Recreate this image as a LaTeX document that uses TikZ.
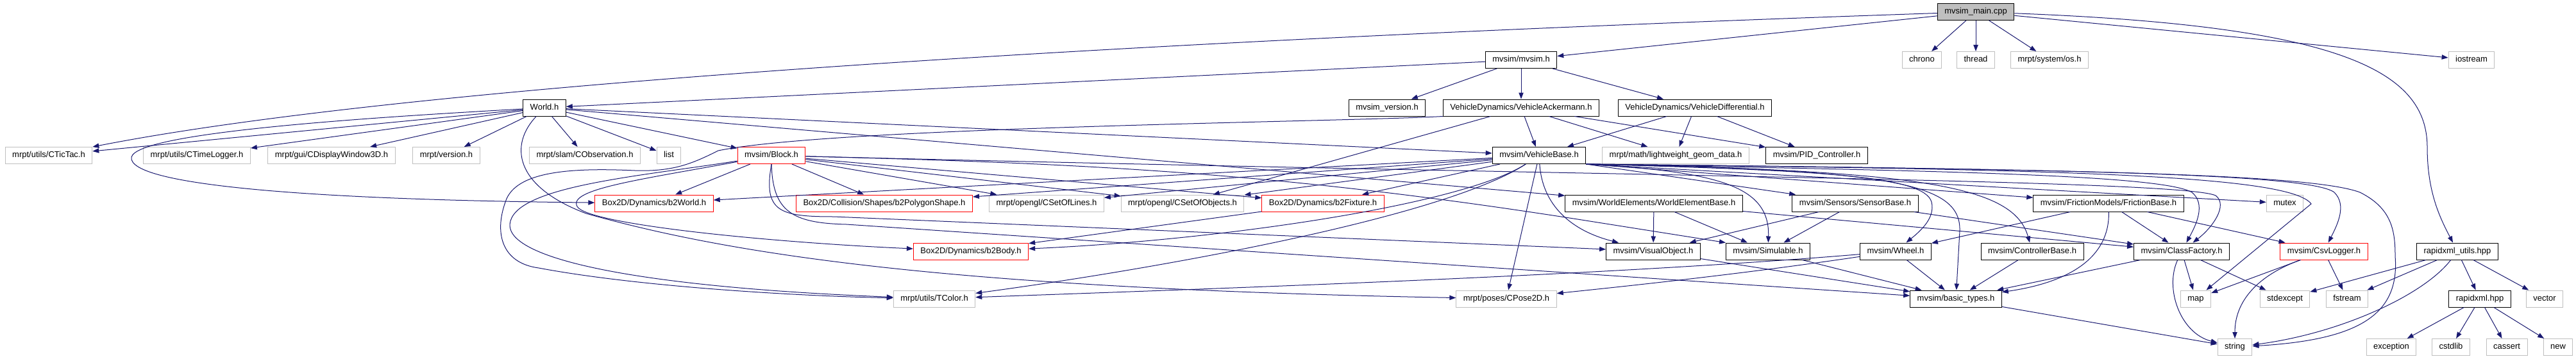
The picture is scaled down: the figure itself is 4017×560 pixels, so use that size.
\documentclass[tikz,border=0pt]{standalone}
\usepackage{fontspec}
\setmainfont{Liberation Sans}
\usetikzlibrary{arrows.meta}
\definecolor{edgeblue}{HTML}{191970}
\definecolor{grey75}{HTML}{BFBFBF}

\begin{document}
\begin{tikzpicture}[x=0.75pt,y=-0.75pt,
  box/.style={draw,line width=0.75pt,fill=white,font=\fontsize{9.75}{11}\selectfont,
    inner xsep=8.25pt,inner ysep=0pt,minimum height=19.5pt,text height=7.2pt,text depth=2.1pt},
  docfile/.style={box,draw=black},
  extfile/.style={box,draw=grey75},
  cutfile/.style={box,draw=red},
  rootfile/.style={box,draw=black,fill=grey75},
  dep/.style={draw=edgeblue,line width=0.75pt,-{Triangle[length=7.5pt,width=5.5pt]}}]
\useasboundingbox (0,0) rectangle (4017,560);

\node[rootfile] (main) at (3081,18.5) {mvsim\_main.cpp};

\node[docfile] (mvsimh) at (2372,93.5) {mvsim/mvsim.h};
\node[extfile] (chrono) at (2997,93.5) {chrono};
\node[extfile] (thread) at (3081,93.5) {thread};
\node[extfile] (osh) at (3196,93.5) {mrpt/system/os.h};
\node[extfile] (iostream) at (3854,93.5) {iostream};

\node[docfile] (world) at (849,168) {World.h};
\node[docfile] (version) at (2163,168) {mvsim\_version.h};
\node[docfile] (ackermann) at (2372,168) {VehicleDynamics/VehicleAckermann.h};
\node[docfile] (differential) at (2643,168) {VehicleDynamics/VehicleDifferential.h};

\node[extfile] (tictac) at (76,242.5) {mrpt/utils/CTicTac.h};
\node[extfile] (timelogger) at (307,242.5) {mrpt/utils/CTimeLogger.h};
\node[extfile] (display3d) at (517,242.5) {mrpt/gui/CDisplayWindow3D.h};
\node[extfile] (mrptversion) at (696,242.5) {mrpt/version.h};
\node[extfile] (cobs) at (912,242.5) {mrpt/slam/CObservation.h};
\node[extfile] (list) at (1043,242.5) {list};
\node[cutfile] (block) at (1203,242.5) {mvsim/Block.h};
\node[docfile] (vehbase) at (2400,242.5) {mvsim/VehicleBase.h};
\node[extfile] (geomdata) at (2613,242.5) {mrpt/math/lightweight\_geom\_data.h};
\node[docfile] (pid) at (2833,242.5) {mvsim/PID\_Controller.h};

\node[cutfile] (b2world) at (1020,317) {Box2D/Dynamics/b2World.h};
\node[cutfile] (b2poly) at (1379,317) {Box2D/Collision/Shapes/b2PolygonShape.h};
\node[extfile] (setlines) at (1632,317) {mrpt/opengl/CSetOfLines.h};
\node[extfile] (setobjects) at (1844,317) {mrpt/opengl/CSetOfObjects.h};
\node[cutfile] (b2fixture) at (2063,317) {Box2D/Dynamics/b2Fixture.h};
\node[docfile] (worldelem) at (2579,317) {mvsim/WorldElements/WorldElementBase.h};
\node[docfile] (sensorbase) at (2893,317) {mvsim/Sensors/SensorBase.h};
\node[docfile] (friction) at (3288,317) {mvsim/FrictionModels/FrictionBase.h};
\node[extfile] (mutex) at (3563,317) {mutex};

\node[cutfile] (b2body) at (1514,392) {Box2D/Dynamics/b2Body.h};
\node[docfile] (visualobj) at (2578,392) {mvsim/VisualObject.h};
\node[docfile] (simulable) at (2757,392) {mvsim/Simulable.h};
\node[docfile] (wheel) at (2956,392) {mvsim/Wheel.h};
\node[docfile] (ctrlbase) at (3169,392) {mvsim/ControllerBase.h};
\node[docfile] (classfactory) at (3402,392) {mvsim/ClassFactory.h};
\node[cutfile] (csvlogger) at (3624,392) {mvsim/CsvLogger.h};
\node[docfile] (rxutils) at (3832,392) {rapidxml\_utils.hpp};

\node[extfile] (tcolor) at (1457,466) {mrpt/utils/TColor.h};
\node[extfile] (cpose) at (2349,466) {mrpt/poses/CPose2D.h};
\node[docfile] (basictypes) at (3050,466) {mvsim/basic\_types.h};
\node[extfile] (map) at (3424,466) {map};
\node[extfile] (stdexcept) at (3563,466) {stdexcept};
\node[extfile] (fstream) at (3660,466) {fstream};
\node[docfile] (rxml) at (3867,466) {rapidxml.hpp};
\node[extfile] (vector) at (3968,466) {vector};

\node[extfile] (string) at (3485,541.5) {string};
\node[extfile] (exception) at (3729,541.5) {exception};
\node[extfile] (cstdlib) at (3822,541.5) {cstdlib};
\node[extfile] (cassert) at (3909,541.5) {cassert};
\node[extfile] (new) at (3989,541.5) {new};

\foreach \a/\b in {main/mvsimh,main/chrono,main/thread,main/osh,main/iostream,
  mvsimh/world,mvsimh/version,mvsimh/ackermann,mvsimh/differential,
  world/tictac,world/timelogger,world/display3d,world/mrptversion,world/cobs,world/list,world/block,world/vehbase,world/worldelem,
  ackermann/vehbase,ackermann/geomdata,ackermann/pid,ackermann/setobjects,
  differential/vehbase,differential/geomdata,differential/pid,
  block/b2world,block/b2poly,block/setlines,block/setobjects,block/b2fixture,
  vehbase/b2world,vehbase/b2poly,vehbase/setlines,vehbase/setobjects,vehbase/b2fixture,vehbase/cpose,
  vehbase.south east/sensorbase,vehbase.south east/friction,vehbase.south east/mutex,
  b2fixture/b2body,
  worldelem/visualobj,worldelem/simulable,worldelem/classfactory,
  sensorbase/visualobj,sensorbase/simulable,sensorbase/classfactory,
  friction/wheel,friction/classfactory,friction/csvlogger,
  visualobj/basictypes,simulable/basictypes,wheel/basictypes,ctrlbase/basictypes,classfactory/basictypes,
  classfactory/map,classfactory/stdexcept,csvlogger/map,csvlogger/fstream,
  rxutils/stdexcept,rxutils/fstream,rxutils/rxml,rxutils/vector,
  rxml/exception,rxml/cstdlib,rxml/cassert,rxml/new,basictypes/string}
  \draw[dep] (\a) -- (\b);

\draw[dep] (main) .. controls (2000,55) and (700,120) .. (tictac);
\draw[dep] (main) .. controls (3650,40) and (3785,110) .. (3785,230) .. controls (3785,300) and (3805,340) .. (rxutils);
\draw[dep] (world) .. controls (600,182) and (215,205) .. (205,245) .. controls (198,290) and (500,312) .. (b2world);
\draw[dep] (world) .. controls (795,225) and (800,290) .. (914,333) .. controls (1150,400) and (1500,450) .. (cpose);
\draw[dep] (ackermann.south west) .. controls (2100,190) and (1300,198) .. (1120,235) .. controls (1080,255) and (1050,268) .. (990,266)
  .. controls (900,262) and (810,265) .. (790,310) .. controls (770,360) and (780,410) .. (840,418) .. controls (1000,448) and (1250,462) .. (tcolor);
\draw[dep] (block) .. controls (1000,275) and (800,290) .. (795,350) .. controls (792,405) and (1000,448) .. (tcolor);
\draw[dep] (block) .. controls (1000,280) and (885,295) .. (900,322) .. controls (915,350) and (1200,378) .. (b2body);
\draw[dep] (block.south) .. controls (1190,330) and (1215,338) .. (1300,338) -- (visualobj);
\draw[dep] (block.south) .. controls (1205,330) and (1235,348) .. (1320,350) -- (basictypes);
\draw[dep] (block) .. controls (1700,255) and (2000,270) .. (2460,342) -- (simulable.north west);
\draw[dep] (block) .. controls (2500,275) and (3400,280) .. (3455,305) .. controls (3475,320) and (3450,355) .. (classfactory);
\draw[dep] (vehbase) .. controls (2280,320) and (1900,375) .. (b2body);
\draw[dep] (vehbase) .. controls (2250,340) and (1800,420) .. (tcolor);
\draw[dep] (vehbase) .. controls (2405,320) and (2450,360) .. (visualobj);
\draw[dep] (vehbase.south east) .. controls (2680,268) and (2760,290) .. (simulable);
\draw[dep] (vehbase.south east) .. controls (2850,266) and (3000,275) .. (3012,315) .. controls (3018,340) and (2995,360) .. (wheel);
\draw[dep] (vehbase.south east) .. controls (2950,265) and (3058,285) .. (3056,360) -- (basictypes);
\draw[dep] (vehbase.south east) .. controls (3000,266) and (3140,290) .. (ctrlbase);
\draw[dep] (vehbase.south east) .. controls (3000,266) and (3370,272) .. (3418,300) .. controls (3440,318) and (3425,350) .. (classfactory);
\draw[dep] (vehbase.south east) .. controls (3200,264) and (3600,270) .. (3640,300) .. controls (3660,320) and (3645,350) .. (csvlogger);
\draw[dep] (vehbase.south east) .. controls (3200,264) and (3570,272) .. (3604,318) -- (map);
\draw[dep] (vehbase.south east) .. controls (3200,264) and (3600,270) .. (3680,300) .. controls (3730,325) and (3735,360) .. (3735,400)
  .. controls (3742,490) and (3680,530) .. (string);
\draw[dep] (wheel) .. controls (2500,430) and (1900,450) .. (tcolor);
\draw[dep] (wheel) .. controls (2700,430) and (2500,450) .. (cpose);
\draw[dep] (friction) .. controls (3290,400) and (3230,440) .. (basictypes);
\draw[dep] (classfactory) .. controls (3375,450) and (3400,520) .. (string);
\draw[dep] (csvlogger) .. controls (3520,430) and (3485,470) .. (string);
\draw[dep] (rxutils) .. controls (3780,460) and (3650,520) .. (string);
\end{tikzpicture}
\end{document}
